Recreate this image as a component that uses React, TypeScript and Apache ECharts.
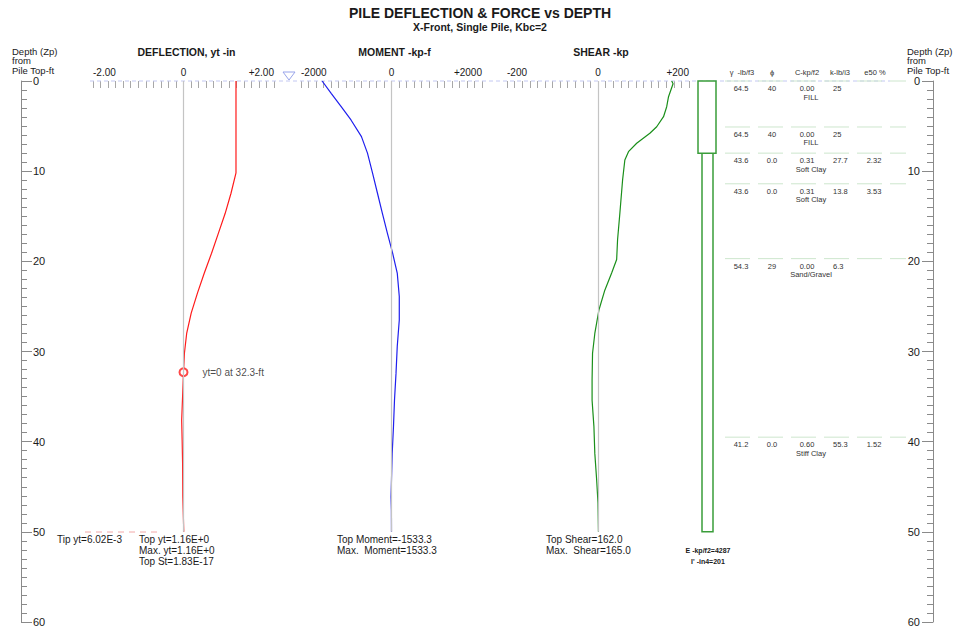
import React, { useEffect, useRef } from "react";
import * as echarts from "echarts";

// ---------------- data ----------------
const pileLength = 50;
const depthMax = 60;

// Deflection (in) vs depth (ft)
const deflDepth = [0, 10.2, 12.45, 14.7, 16.9, 19.1, 21.3, 23.5, 25.75, 28.0, 30.2, 32.3, 35.0, 37.6, 39.8, 42.4, 46.1, 50];
const deflValue = [1.16, 1.16, 1.05, 0.92, 0.77, 0.62, 0.46, 0.31, 0.17, 0.07, 0.02, 0, -0.02, -0.04, -0.03, -0.02, -0.015, 0.006];
const zeroDeflDepth = 32.3;

// Moment (kp-f) vs depth
const momDepth = [0, 1.37, 2.85, 4.32, 6.17, 8.0, 10.2, 12.45, 14.7, 16.9, 19.1, 21.3, 23.9, 26.5, 29.45, 32.4, 35.4, 38.3, 41.3, 44.2, 46.1, 47.6, 50];
const momValue = [-1533.3, -1333, -1112, -895, -664, -531, -420, -310, -200, -90, 25, 127, 172, 172, 127, 100, 66, 44, 15, 0, -10, -2, 0];

// Shear (kp) vs depth
const shearDepth = [0, 0.3, 1.74, 2.85, 3.96, 5.07, 5.8, 6.9, 7.84, 8.76, 11.0, 14.7, 17.6, 19.8, 21.3, 23.2, 25.4, 28, 30.2, 33.1, 35.4, 38.3, 41.3, 44.2, 46.8, 50];
const shearValue = [162, 165, 155, 151, 144, 129, 114, 85, 67, 59, 54, 48, 43, 41, 30, 15, 2, -7, -12, -13, -13, -9, -7, -3, 0, 1];

// Panels
const panelTitles = ["DEFLECTION, yt -in", "MOMENT -kp-f", "SHEAR -kp"];
const panelMin = [-2, -2000, -200];
const panelMax = [2, 2000, 200];
const panelTickValues = [[-2, 0, 2], [-2000, 0, 2000], [-200, 0, 200]];
const panelTickLabels = [["-2.00", "0", "+2.00"], ["-2000", "0", "+2000"], ["-200", "0", "+200"]];

// Soil layers
const layerTop = [0, 5.1, 8.0, 11.4, 19.7, 39.5];
const gamma = ["64.5", "64.5", "43.6", "43.6", "54.3", "41.2"];
const phi = ["40", "40", "0.0", "0.0", "29", "0.0"];
const cohesion = ["0.00", "0.00", "0.31", "0.31", "0.00", "0.60"];
const kValue = ["25", "25", "27.7", "13.8", "6.3", "55.3"];
const e50 = ["", "", "2.32", "3.53", "", "1.52"];
const soilName = ["FILL", "FILL", "Soft Clay", "Soft Clay", "Sand/Gravel", "Stiff Clay"];
const tableHeaders = ["\u03b3  -lb/f3", "\u03d5", "C-kp/f2", "k-lb/i3", "e50 %"];

// Pile sections
const pileTop = [8, 0];
const pileBottom = [pileLength, 8];

// Texts
const titleText = "PILE DEFLECTION & FORCE vs DEPTH";
const subtitleText = "X-Front, Single Pile, Kbc=2";
const depthTitle = ["Depth (Zp)", "from", "Pile Top-ft"];
const tipText = "Tip yt=6.02E-3";
const deflNotes = ["Top yt=1.16E+0", "Max. yt=1.16E+0", "Top St=1.83E-17"];
const momNotes = ["Top Moment=-1533.3", "Max.  Moment=1533.3"];
const shearNotes = ["Top Shear=162.0", "Max.  Shear=165.0"];
const pileNotes = ["E -kp/f2=4287", "I' -in4=201"];

// ---------------- layout ----------------
const FONT = "'Liberation Sans', Arial, Helvetica, sans-serif";
const TOP = 81;
const BOTTOM = 10;
const panelLeft = [93, 301, 507];
const panelWidth = [181, 181, 182];
const pileX = [702, 698];
const pileW = [11, 18];
const colX = [741, 772, 807, 833, 874];
const colAlign = ["center", "center", "center", "left", "center"];
const headerX = [742, 772, 807, 840, 875];

function txt(x: number, y: number, text: string, size: number, opts: any = {}) {
  return {
    type: "text",
    x,
    y,
    silent: true,
    style: {
      text,
      fontSize: size,
      fontFamily: FONT,
      fontWeight: opts.bold ? "bold" : "normal",
      fill: opts.color || "#1a1a1a",
      align: opts.align || "left",
      textAlign: opts.align || "left",
      verticalAlign: opts.valign || "middle",
      textVerticalAlign: opts.valign || "middle",
      lineHeight: opts.lineHeight,
    },
  };
}

function buildOption(): any {
  const grids: any[] = panelLeft.map((l, i) => ({
    left: l,
    width: panelWidth[i],
    top: TOP,
    bottom: BOTTOM,
    containLabel: false,
    outerBoundsMode: "none",
  }));
  grids.push({ left: 21, right: 27, top: TOP, bottom: BOTTOM, containLabel: false, outerBoundsMode: "none" });
  grids.push({ left: 690, width: 230, top: TOP, bottom: BOTTOM, containLabel: false, outerBoundsMode: "none" });

  const xAxes: any[] = panelLeft.map((_, i) => ({
    gridIndex: i,
    type: "value",
    position: "top",
    min: panelMin[i],
    max: panelMax[i],
    interval: (panelMax[i] - panelMin[i]) / 24,
    axisLine: { show: false },
    axisTick: { show: true, inside: true, length: 7, lineStyle: { color: "#a8a8a8", width: 1 } },
    splitLine: { show: false },
    axisLabel: {
      show: true,
      margin: 4,
      fontSize: 10,
      fontFamily: FONT,
      color: "#1a1a1a",
      showMinLabel: true,
      showMaxLabel: true,
      hideOverlap: false,
      alignMinLabel: "left",
      alignMaxLabel: "right",
      formatter: (v: number) => {
        const tol = (panelMax[i] - panelMin[i]) / 1000;
        const vals = panelTickValues[i];
        for (let k = 0; k < vals.length; k++) if (Math.abs(v - vals[k]) < tol) return panelTickLabels[i][k];
        return "";
      },
    },
  }));
  xAxes.push({ gridIndex: 3, type: "value", min: 0, max: 1, show: false });
  xAxes.push({ gridIndex: 4, type: "value", min: 0, max: 1, show: false });

  const hiddenY = (g: number) => ({ gridIndex: g, type: "value", inverse: true, min: 0, max: depthMax, show: false });
  const depthAxis = (pos: string, margin: number) => ({
    gridIndex: 3,
    type: "value",
    position: pos,
    inverse: true,
    min: 0,
    max: depthMax,
    interval: 10,
    axisLine: { show: true, lineStyle: { color: "#8a8a8a", width: 1 } },
    axisTick: { show: true, inside: true, length: 11, lineStyle: { color: "#8a8a8a" } },
    minorTick: { show: true, splitNumber: 10, length: 6, lineStyle: { color: "#8a8a8a" } },
    splitLine: { show: false },
    minorSplitLine: { show: false },
    axisLabel: { inside: true, margin, fontSize: 11, fontFamily: FONT, color: "#1a1a1a" },
  });
  const yAxes: any[] = [hiddenY(0), hiddenY(1), hiddenY(2), depthAxis("left", 12), depthAxis("right", 13), hiddenY(4)];

  const zeroLine = {
    silent: true,
    symbol: ["none", "none"],
    label: { show: false },
    lineStyle: { color: "#c4c4c4", width: 1.2, type: "solid" },
    emphasis: { disabled: true },
    data: [[{ coord: [0, 0] }, { coord: [0, pileLength] }]],
  };

  const curve = (idx: number, depth: number[], vals: number[], color: string) => ({
    type: "line",
    xAxisIndex: idx,
    yAxisIndex: idx,
    data: depth.map((d, k) => [vals[k], d]),
    showSymbol: false,
    symbol: "none",
    lineStyle: { color, width: 1.2 },
    itemStyle: { color },
    silent: true,
    markLine: zeroLine,
    z: 3,
  });

  const series: any[] = [
    curve(0, deflDepth, deflValue, "#ff1a1a"),
    curve(1, momDepth, momValue, "#1f1fee"),
    curve(2, shearDepth, shearValue, "#1a8f1a"),
    {
      type: "scatter",
      xAxisIndex: 0,
      yAxisIndex: 0,
      data: [[0, zeroDeflDepth]],
      symbol: "emptyCircle",
      symbolSize: 8,
      itemStyle: { color: "#ff1a1a", borderColor: "#ff1a1a", borderWidth: 1 },
      label: {
        show: true,
        position: "right",
        distance: 14,
        formatter: `yt=0 at ${zeroDeflDepth}-ft`,
        fontSize: 10,
        fontFamily: FONT,
        color: "#1a1a1a",
      },
      silent: true,
      z: 4,
    },
    {
      type: "custom",
      xAxisIndex: 4,
      yAxisIndex: 5,
      data: pileTop.map((t, k) => [0, t, pileBottom[k]]),
      encode: { x: 0, y: 1 },
      silent: true,
      renderItem: (params: any, api: any) => {
        const k = params.dataIndex;
        const y0 = api.coord([0, pileTop[k]])[1];
        const y1 = api.coord([0, pileBottom[k]])[1];
        return {
          type: "rect",
          shape: { x: pileX[k], y: y0, width: pileW[k], height: y1 - y0 },
          style: { fill: "#ffffff", stroke: "#3a9d3a", lineWidth: 1.5 },
        };
      },
      z: 3,
    },
    {
      type: "custom",
      xAxisIndex: 4,
      yAxisIndex: 5,
      data: layerTop.map((d) => [0, d]),
      encode: { x: 0, y: 1 },
      silent: true,
      renderItem: (params: any, api: any) => {
        const k = params.dataIndex;
        const y = api.coord([0, layerTop[k]])[1];
        const vals = [gamma[k], phi[k], cohesion[k], kValue[k], e50[k]];
        const children: any[] = [
          {
            type: "line",
            shape: { x1: 725, y1: y, x2: 906, y2: y },
            style: { stroke: "#cde6cd", lineWidth: 1, lineDash: [25, 8] },
          },
        ];
        vals.forEach((v, c) => {
          if (!v) return;
          children.push({
            type: "text",
            x: colX[c],
            y: y + 7.5,
            style: {
              text: v,
              fontSize: 7.5,
              fontFamily: FONT,
              fill: "#333",
              align: colAlign[c],
              textAlign: colAlign[c],
              verticalAlign: "middle",
              textVerticalAlign: "middle",
            },
          });
        });
        children.push({
          type: "text",
          x: 811,
          y: y + 16,
          style: {
            text: soilName[k],
            fontSize: 7.5,
            fontFamily: FONT,
            fill: "#333",
            align: "center",
            textAlign: "center",
            verticalAlign: "middle",
            textVerticalAlign: "middle",
          },
        });
        return { type: "group", children };
      },
      z: 2,
    },
  ];

  const graphics: any[] = [
    // ground line
    {
      type: "line",
      silent: true,
      z: 1,
      shape: { x1: 90, y1: TOP, x2: 890, y2: TOP },
      style: { stroke: "#c3c8f2", lineWidth: 1, lineDash: [4, 3] },
    },
    // water table marker
    {
      type: "polygon",
      silent: true,
      shape: { points: [[283, 72], [295, 72], [289, 80]] },
      style: { fill: "none", stroke: "#98a4ea", lineWidth: 1 },
    },
    // tip marker line
    {
      type: "line",
      silent: true,
      shape: { x1: 85, y1: 532, x2: 157, y2: 532 },
      style: { stroke: "#f2a8a8", lineWidth: 1, lineDash: [6, 5] },
    },
    txt(480, 13, titleText, 14, { bold: true, align: "center" }),
    txt(480, 27, subtitleText, 10.5, { bold: true, align: "center" }),
  ];
  depthTitle.forEach((t, k) => {
    graphics.push(txt(12, 51 + k * 9.5, t, 9.5));
    graphics.push(txt(907, 51 + k * 9.5, t, 9.5));
  });
  panelTitles.forEach((t, i) => {
    graphics.push(txt(panelLeft[i] + panelWidth[i] / 2 + 3, 51.5, t, 10.5, { bold: true, align: "center" }));
  });
  tableHeaders.forEach((t, c) => {
    graphics.push(txt(headerX[c], 72.5, t, 7.5, { align: "center", color: "#333" }));
  });
  graphics.push(txt(57, 539, tipText, 10));
  graphics.push(txt(139, 533.5, deflNotes.join("\n"), 10, { valign: "top", lineHeight: 11 }));
  graphics.push(txt(337, 533.5, momNotes.join("\n"), 10, { valign: "top", lineHeight: 11 }));
  graphics.push(txt(546, 533.5, shearNotes.join("\n"), 10, { valign: "top", lineHeight: 11 }));
  graphics.push(txt(708, 545, pileNotes.join("\n"), 7, { bold: true, align: "center", valign: "top", lineHeight: 11 }));

  return {
    animation: false,
    backgroundColor: "#ffffff",
    textStyle: { fontFamily: FONT },
    grid: grids,
    xAxis: xAxes,
    yAxis: yAxes,
    series,
    graphic: { elements: graphics },
  };
}

export default function App() {
  const ref = useRef<HTMLDivElement>(null);
  useEffect(() => {
    if (!ref.current) return;
    const chart = echarts.init(ref.current, undefined, { renderer: "svg" });
    chart.setOption(buildOption());
    return () => chart.dispose();
  }, []);
  return (
    <div
      ref={ref}
      style={{ position: "fixed", left: 0, top: 0, width: 960, height: 632, background: "#fff" }}
    />
  );
}
